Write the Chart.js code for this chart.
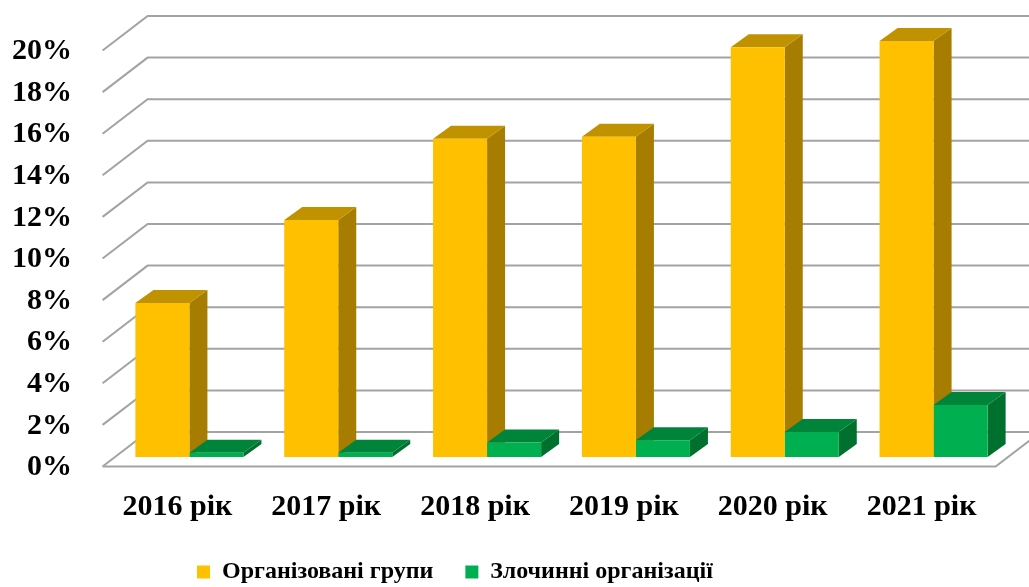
<!DOCTYPE html>
<html>
<head>
<meta charset="utf-8">
<script src="https://cdn.jsdelivr.net/npm/chart.js@4"></script>
<style>
  html, body { margin: 0; padding: 0; background: #fff; }
  #wrap { width: 1029px; height: 587px; }
</style>
</head>
<body>
<div id="wrap"><canvas id="chart"></canvas></div>
<script>
// data (percent)
const years = ['2016 рік', '2017 рік', '2018 рік', '2019 рік', '2020 рік', '2021 рік'];
const groupsPct = [7.4, 11.4, 15.3, 15.4, 19.7, 20.0];
const orgsPct = [0.2, 0.2, 0.7, 0.8, 1.2, 2.5];
const seriesNames = ['Організовані групи', 'Злочинні організації'];
const yMax = 20;
const yStep = 2;

const serif = "'Liberation Serif', 'Times New Roman', serif";

// fake 3D: walls / floor and bar faces drawn behind the flat bar fronts
const depth3d = {
    id: 'depth3d',
    beforeDatasetsDraw(chart) {
        const { ctx, chartArea: a, scales: { y } } = chart;
        const back = { dx: 32.6, dy: -25 };
        const front = { dx: -12.4, dy: 9.5 };
        const bar = { dx: 18, dy: -13 };

        ctx.save();
        ctx.strokeStyle = '#a3a3a3';
        ctx.lineWidth = 2;
        y.ticks.forEach(t => {
            const py = y.getPixelForValue(t.value);
            ctx.beginPath();
            ctx.moveTo(a.left + front.dx, py + front.dy);
            ctx.lineTo(a.left + back.dx, py + back.dy);
            ctx.lineTo(a.right + back.dx + 20, py + back.dy);
            ctx.stroke();
        });
        const p0 = y.getPixelForValue(0);
        ctx.beginPath();
        ctx.moveTo(a.left + front.dx, p0 + front.dy);
        ctx.lineTo(a.right + front.dx, p0 + front.dy);
        ctx.lineTo(a.right + back.dx, p0 + back.dy);
        ctx.stroke();

        const poly = pts => {
            ctx.beginPath();
            ctx.moveTo(pts[0][0], pts[0][1]);
            pts.slice(1).forEach(p => ctx.lineTo(p[0], p[1]));
            ctx.closePath();
            ctx.fill();
        };

        chart.data.labels.forEach((_, i) => {
            chart.data.datasets.forEach((ds, d) => {
                const el = chart.getDatasetMeta(d).data[i];
                const { x, y: top, base, width } = el.getProps(['x', 'y', 'base', 'width'], true);
                const l = x - width / 2, r = x + width / 2;
                ctx.fillStyle = ds.sideColor;
                poly([[r, top], [r + bar.dx, top + bar.dy], [r + bar.dx, base + bar.dy], [r, base]]);
                ctx.fillStyle = ds.topColor;
                poly([[l, top], [l + bar.dx, top + bar.dy], [r + bar.dx, top + bar.dy], [r, top]]);
            });
        });
        ctx.restore();
    }
};

// put the legend row where the original has it
const legendPlace = {
    id: 'legendPlace',
    afterLayout(chart) {
        const lg = chart.legend;
        const w = lg.right - lg.left;
        lg.left = 165;
        lg.right = lg.left + w;
        lg.top = 528;
        lg.bottom = chart.height;
        lg.height = lg.bottom - lg.top;
    }
};

new Chart(document.getElementById('chart'), {
    type: 'bar',
    data: {
        labels: years,
        datasets: [
            {
                label: seriesNames[0],
                data: groupsPct,
                backgroundColor: '#FFC000',
                topColor: '#C09200',
                sideColor: '#A67D00',
                categoryPercentage: 0.726,
                barPercentage: 1.0
            },
            {
                label: seriesNames[1],
                data: orgsPct,
                backgroundColor: '#00B050',
                topColor: '#00843A',
                sideColor: '#00702F',
                categoryPercentage: 0.726,
                barPercentage: 1.0
            }
        ]
    },
    options: {
        responsive: true,
        maintainAspectRatio: false,
        animation: false,
        layout: { padding: { left: 10, right: 21, top: 41, bottom: 0 } },
        plugins: {
            tooltip: { enabled: false },
            legend: {
                position: 'bottom',
                align: 'start',
                maxHeight: 55,
                labels: {
                    boxWidth: 13,
                    boxHeight: 13,
                    padding: 32,
                    color: '#000',
                    font: { family: serif, size: 24, weight: 'bold' }
                }
            }
        },
        scales: {
            x: {
                grid: { display: false, drawTicks: false },
                border: { display: false },
                ticks: {
                    color: '#000',
                    padding: 32,
                    labelOffset: -12,
                    font: { family: serif, size: 30, weight: 'bold' }
                },
                afterFit: s => { s.height = 75; }
            },
            y: {
                min: 0,
                max: yMax,
                grid: { display: false, drawTicks: false },
                border: { display: false },
                ticks: {
                    stepSize: yStep,
                    color: '#000',
                    padding: 43,
                    labelOffset: 10.5,
                    font: { family: serif, size: 30, weight: 'bold' },
                    callback: v => v + '%'
                },
                afterFit: s => {
                    s.width = 105;
                    s.paddingTop = 0;
                    s.paddingBottom = 0;
                }
            }
        }
    },
    plugins: [depth3d, legendPlace]
});
</script>
</body>
</html>
